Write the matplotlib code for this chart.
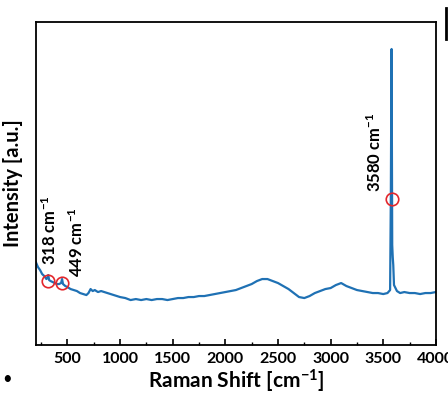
import matplotlib.pyplot as plt
from matplotlib.ticker import MultipleLocator
from matplotlib.lines import Line2D

plt.rcParams['font.family'] = ['Lato', 'DejaVu Sans']
plt.rcParams['mathtext.fontset'] = 'custom'
plt.rcParams['mathtext.rm'] = 'Lato'
plt.rcParams['mathtext.bf'] = 'Lato:bold'
plt.rcParams['mathtext.it'] = 'Lato:italic'

# Raman spectrum (intensity in arbitrary units)
shift = [200, 220, 240, 260, 280, 300, 310, 318, 326, 340, 360, 380, 400, 420,
         440, 449, 458, 480, 500, 530, 560, 590, 620, 650, 680, 700, 720, 740,
         760, 790, 820, 850, 880, 910, 940, 970, 1000, 1050, 1100, 1150, 1200,
         1250, 1300, 1350, 1400, 1450, 1500, 1550, 1600, 1650, 1700, 1750, 1800,
         1850, 1900, 1950, 2000, 2050, 2100, 2150, 2200, 2250, 2300, 2350, 2400,
         2450, 2500, 2550, 2600, 2650, 2700, 2750, 2800, 2850, 2900, 2950, 3000,
         3050, 3100, 3150, 3200, 3250, 3300, 3350, 3400, 3450, 3500, 3540, 3565,
         3572, 3576, 3579, 3582, 3585, 3590, 3595, 3602, 3630, 3660, 3700, 3750,
         3800, 3850, 3900, 3950, 4000]
intensity = [83, 78, 75, 71, 69, 66, 67, 70, 65, 64, 63, 62, 61, 61,
             62, 66, 61, 59, 58, 56, 55, 54, 52, 51, 50, 52, 56, 54,
             55, 53, 54, 53, 52, 51, 50, 49, 48, 47, 45, 46, 45,
             46, 45, 46, 46, 45, 46, 47, 47, 48, 48, 49, 49,
             50, 51, 52, 53, 54, 55, 57, 59, 61, 64, 66, 66,
             64, 62, 59, 56, 52, 48, 47, 49, 52, 54, 56, 57,
             60, 62, 59, 57, 55, 54, 53, 52, 52, 51, 52, 55,
             150, 242, 296, 200, 100, 88, 80, 60, 54, 52, 53, 52,
             52, 51, 52, 52, 53]

peaks = [318, 449, 3580]
peak_marks = [64, 62, 146]
peak_labels = ['318 cm$^{\\mathbf{-1}}$', '449 cm$^{\\mathbf{-1}}$',
               '3580 cm$^{\\mathbf{-1}}$']
label_x = [333, 590, 3420]
label_y = [80, 68, 153]

fig = plt.figure(figsize=(4.48, 3.93), dpi=100)
ax = fig.add_axes([0.080, 0.122, 0.893, 0.822])

ax.plot(shift, intensity, color='#1f71b4', lw=1.6)
ax.plot(peaks, peak_marks, 'o', mfc='none', mec='#e3262b', ms=9, mew=1.2)

for lx, ly, txt in zip(label_x, label_y, peak_labels):
    ax.text(lx, ly, txt, rotation=90, ha='center', va='bottom',
            fontsize=12, fontweight='bold')

ax.set_xlim(200, 4000)
ax.set_ylim(0, 323)
ax.set_yticks([])
ax.xaxis.set_major_locator(MultipleLocator(500))
ax.xaxis.set_minor_locator(MultipleLocator(250))
ax.tick_params(axis='x', which='major', direction='in', length=4, width=1.2,
               labelsize=11.5, pad=5)
ax.tick_params(axis='x', which='minor', direction='in', length=2.5, width=1)
for lab in ax.get_xticklabels():
    lab.set_fontweight('bold')
for sp in ax.spines.values():
    sp.set_linewidth(1.3)

ax.set_xlabel('Raman Shift [cm$^{\\mathbf{-1}}$]', fontsize=15,
              fontweight='bold', labelpad=1)
ax.set_ylabel('Intensity [a.u.]', fontsize=14.5, fontweight='bold',
              labelpad=9)

# bits of the neighbouring panel / bullet at the edges
fig.add_artist(Line2D([0.9955, 0.9955], [0.90, 0.98], color='black', lw=2,
                      transform=fig.transFigure))
fig.text(0.015, 0.035, '\u2022', fontsize=12, ha='center', va='center')

fig.savefig('out.png', dpi=100)
